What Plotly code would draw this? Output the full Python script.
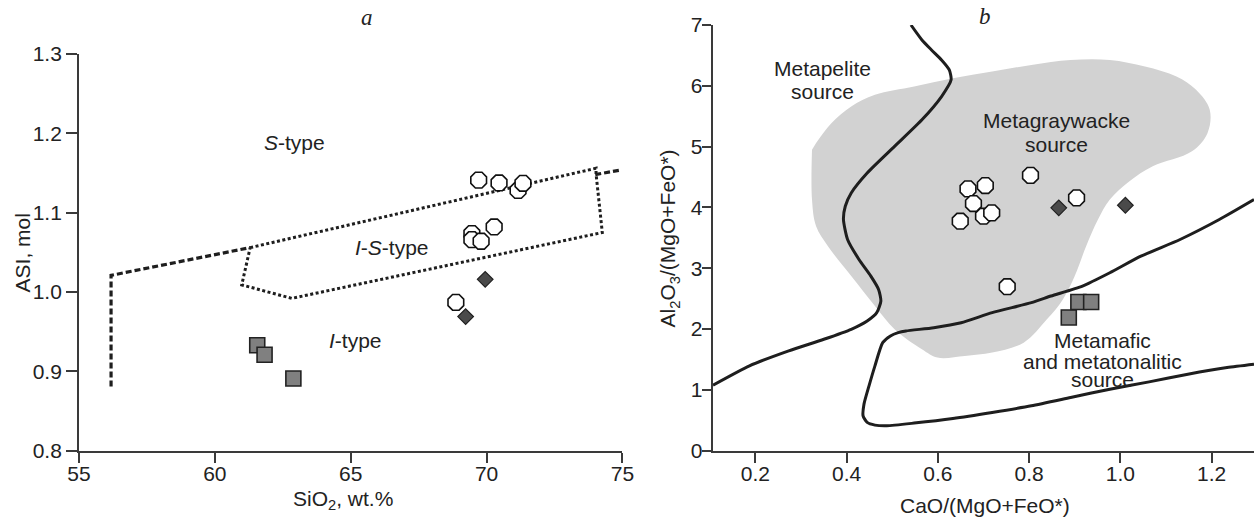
import plotly.graph_objects as go

# ---------------- data: panel a ----------------
a_circ_x = [69.71, 70.46, 71.16, 71.34, 70.28, 69.46, 69.46, 69.80, 68.87]
a_circ_y = [1.141, 1.1375, 1.128, 1.137, 1.082, 1.0736, 1.066, 1.064, 0.987]
a_dia_x = [69.95, 69.23]
a_dia_y = [1.016, 0.969]
a_sq_x = [61.56, 61.83, 62.89]
a_sq_y = [0.933, 0.921, 0.891]

# boundary lines panel a
a_dash1_x = [56.18, 56.18, 61.30]
a_dash1_y = [0.881, 1.021, 1.056]
a_dot_x = [61.30, 74.03, 74.03, 74.26, 62.83, 60.99, 61.30]
a_dot_y = [1.056, 1.156, 1.149, 1.075, 0.992, 1.009, 1.056]
a_dash2_x = [74.00, 74.97]
a_dash2_y = [1.148, 1.154]

a_xticks = [55, 60, 65, 70, 75]
a_yticks = [0.8, 0.9, 1.0, 1.1, 1.2, 1.3]
a_yticklabels = ["0.8", "0.9", "1.0", "1.1", "1.2", "1.3"]

# ---------------- data: panel b ----------------
b_circ_x = [0.666, 0.704, 0.678, 0.649, 0.700, 0.718, 0.803, 0.904, 0.752]
b_circ_y = [4.305, 4.360, 4.064, 3.774, 3.856, 3.911, 4.528, 4.157, 2.697]
b_dia_x = [0.865, 1.011]
b_dia_y = [3.993, 4.036]
b_sq_x = [0.887, 0.908, 0.936]
b_sq_y = [2.190, 2.445, 2.445]

# metagraywacke field
gw_x = [0.324, 0.324, 0.333, 0.359, 0.410, 0.462, 0.505, 0.565, 0.599, 0.659,
        0.719, 0.788, 0.839, 0.874, 0.900, 0.925, 0.951, 0.977, 1.020, 1.071,
        1.157, 1.191, 1.196, 1.166, 1.123, 1.054, 0.977, 0.891, 0.805, 0.719,
        0.633, 0.548, 0.462, 0.410, 0.367, 0.333]
gw_y = [4.949, 4.129, 3.691, 3.363, 2.871, 2.379, 1.996, 1.668, 1.531, 1.559,
        1.613, 1.777, 2.160, 2.488, 2.871, 3.363, 3.801, 4.129, 4.430, 4.676,
        4.922, 5.222, 5.605, 5.934, 6.152, 6.316, 6.426, 6.426, 6.344, 6.234,
        6.125, 5.988, 5.852, 5.660, 5.387, 5.058]

# metapelite boundary
mp_x = [0.541, 0.565, 0.586, 0.608, 0.625, 0.629, 0.608, 0.565, 0.505, 0.445,
        0.410, 0.397, 0.393, 0.402, 0.427, 0.453, 0.470, 0.475, 0.466, 0.445,
        0.410, 0.350, 0.273, 0.187, 0.107]
mp_y = [7.000, 6.754, 6.590, 6.426, 6.262, 6.098, 5.824, 5.441, 5.004, 4.566,
        4.238, 4.020, 3.801, 3.473, 3.145, 2.871, 2.652, 2.461, 2.270, 2.133,
        1.996, 1.832, 1.641, 1.395, 1.077]

# metamafic field boundary
mm_x = [1.293, 1.217, 1.131, 1.045, 0.977, 0.917, 0.848, 0.805, 0.719, 0.651,
        0.591, 0.530, 0.513, 0.496, 0.479, 0.462, 0.449, 0.438, 0.436, 0.445,
        0.462, 0.488, 0.548, 0.633, 0.719, 0.805, 0.891, 0.977, 1.063, 1.148,
        1.234, 1.293]
mm_y = [4.129, 3.801, 3.473, 3.199, 2.926, 2.707, 2.543, 2.434, 2.270, 2.105,
        2.023, 1.969, 1.941, 1.887, 1.777, 1.395, 1.066, 0.766, 0.574, 0.465,
        0.421, 0.410, 0.454, 0.530, 0.629, 0.738, 0.875, 1.012, 1.132, 1.258,
        1.367, 1.422]

b_xticks = [0.2, 0.4, 0.6, 0.8, 1.0, 1.2]
b_xticklabels = ["0.2", "0.4", "0.6", "0.8", "1.0", "1.2"]
b_yticks = [0, 1, 2, 3, 4, 5, 6, 7]

# ---------------- styles ----------------
W, H = 1254, 519
FONT = "Liberation Sans, Arial, sans-serif"
TXT = "#222222"
LINE = "#1e1e1e"
AX = "#3a3a3a"

circ = dict(symbol="octagon", size=17, color="white", line=dict(color="#111111", width=1.6))
dia = dict(symbol="diamond", size=12, color="#4a4a4a", line=dict(color="#222222", width=1.2))
sq = dict(symbol="square", size=15, color="#808080", line=dict(color="#222222", width=1.6))

fig = go.Figure()

# panel a
fig.add_trace(go.Scatter(x=a_dash1_x, y=a_dash1_y, mode="lines", xaxis="x", yaxis="y",
                         line=dict(color=LINE, width=3.2, dash="6px,3px")))
fig.add_trace(go.Scatter(x=a_dash2_x, y=a_dash2_y, mode="lines", xaxis="x", yaxis="y",
                         line=dict(color=LINE, width=3.2, dash="6px,3px")))
fig.add_trace(go.Scatter(x=a_dot_x, y=a_dot_y, mode="lines", xaxis="x", yaxis="y",
                         line=dict(color=LINE, width=3, dash="3px,2.5px")))
fig.add_trace(go.Scatter(x=a_sq_x, y=a_sq_y, mode="markers", xaxis="x", yaxis="y", marker=sq))
fig.add_trace(go.Scatter(x=a_dia_x, y=a_dia_y, mode="markers", xaxis="x", yaxis="y", marker=dia))
fig.add_trace(go.Scatter(x=a_circ_x, y=a_circ_y, mode="markers", xaxis="x", yaxis="y", marker=circ))

# panel b
fig.add_trace(go.Scatter(x=gw_x, y=gw_y, mode="lines", fill="toself", xaxis="x2", yaxis="y2",
                         fillcolor="#d2d2d2", line=dict(width=0, color="#d2d2d2", shape="spline")))
fig.add_trace(go.Scatter(x=mp_x, y=mp_y, mode="lines", xaxis="x2", yaxis="y2",
                         line=dict(color=LINE, width=3, shape="spline", smoothing=0.6)))
fig.add_trace(go.Scatter(x=mm_x, y=mm_y, mode="lines", xaxis="x2", yaxis="y2",
                         line=dict(color=LINE, width=3, shape="spline", smoothing=0.6)))
fig.add_trace(go.Scatter(x=b_sq_x, y=b_sq_y, mode="markers", xaxis="x2", yaxis="y2", marker=sq))
fig.add_trace(go.Scatter(x=b_dia_x, y=b_dia_y, mode="markers", xaxis="x2", yaxis="y2", marker=dia))
fig.add_trace(go.Scatter(x=b_circ_x, y=b_circ_y, mode="markers", xaxis="x2", yaxis="y2", marker=circ))

axis_common = dict(showline=True, linecolor=AX, linewidth=1.8, ticks="outside",
                   tickwidth=1.6, tickcolor=AX, showgrid=False, zeroline=False,
                   automargin=False,
                   tickfont=dict(family=FONT, size=21, color=TXT))

def px(v):
    return v / W

def py(v):
    return 1 - v / H

fig.update_layout(
    width=W, height=H, margin=dict(l=0, r=0, t=0, b=0, pad=0),
    paper_bgcolor="white", plot_bgcolor="white", showlegend=False,
    font=dict(family=FONT, size=21, color=TXT),
    xaxis=dict(domain=[px(79.0), px(622.4)], range=[55, 75], tickvals=a_xticks,
               anchor="y", ticklen=10, ticklabelstandoff=-7, **axis_common),
    yaxis=dict(domain=[py(450.7), py(54)], range=[0.8, 1.3], tickvals=a_yticks,
               ticktext=a_yticklabels, anchor="x", ticklen=11, **axis_common),
    xaxis2=dict(domain=[px(713.0), 1.0], range=[0.107, 1.293], tickvals=b_xticks,
                ticktext=b_xticklabels, anchor="y2", ticklen=10, ticklabelstandoff=-7,
                **axis_common),
    yaxis2=dict(domain=[py(450.7), py(25)], range=[0, 7], tickvals=b_yticks,
                anchor="x2", ticklen=9.5, ticklabelstandoff=-5, **axis_common),
)

ann = []
def paper_text(text, x, y, size=21, angle=0, family=FONT):
    ann.append(dict(text=text, x=px(x), y=py(y), xref="paper", yref="paper",
                    showarrow=False, textangle=angle, xanchor="center", yanchor="middle",
                    font=dict(family=family, size=size, color=TXT)))

def data_text(text, x, y, xr, yr, size=21):
    ann.append(dict(text=text, x=x, y=y, xref=xr, yref=yr, showarrow=False,
                    xanchor="center", yanchor="middle",
                    font=dict(family=FONT, size=size, color=TXT)))

SERIF = "Liberation Serif, Times New Roman, serif"
paper_text("<i>a</i>", 367, 18, size=23, family=SERIF)
paper_text("<i>b</i>", 984.6, 17, size=23, family=SERIF)
paper_text("ASI, mol", 22.4, 253, angle=-90)
paper_text("SiO<sub>2</sub>, wt.%", 343, 500)
paper_text("Al<sub>2</sub>O<sub>3</sub>/(MgO+FeO*)", 669.4, 238, angle=-90)
paper_text("CaO/(MgO+FeO*)", 984.6, 505)

data_text("<i>S</i>-type", 62.92, 1.189, "x", "y")
data_text("<i>I</i>-<i>S</i>-type", 66.52, 1.0555, "x", "y")
data_text("<i>I</i>-type", 65.16, 0.9395, "x", "y")

data_text("Metapelite", 0.348, 6.293, "x2", "y2")
data_text("source", 0.348, 5.905, "x2", "y2")
data_text("Metagraywacke", 0.861, 5.437, "x2", "y2")
data_text("source", 0.861, 5.042, "x2", "y2")
data_text("Metamafic", 0.96, 1.82, "x2", "y2")
data_text("and metatonalitic", 0.96, 1.475, "x2", "y2")
data_text("source", 0.96, 1.163, "x2", "y2")

fig.update_layout(annotations=ann)

fig.write_html("out.html",
               config={"displayModeBar": False},
               post_script="document.body.style.margin='0';document.body.style.padding='0';"
                           "document.body.style.overflow='hidden';")
